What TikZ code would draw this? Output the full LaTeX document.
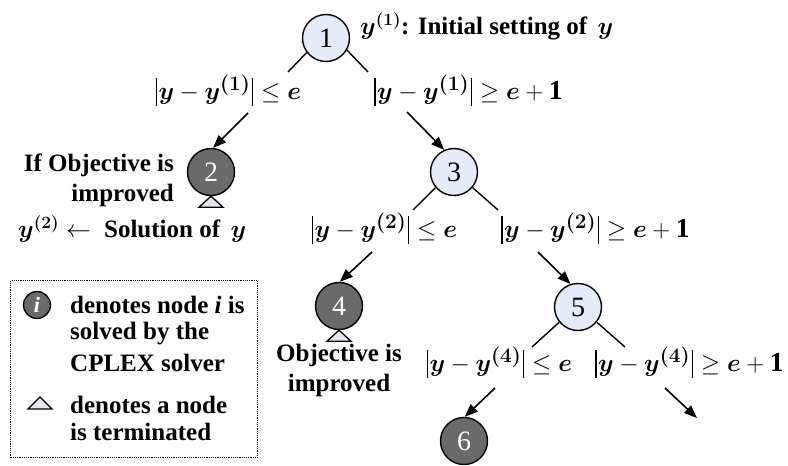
\documentclass[tikz,border=0pt]{standalone}
\usepackage{fontspec}
\setmainfont{Liberation Serif}
\usepackage{amsmath}
\usepackage{bm}
\usetikzlibrary{arrows.meta}
\definecolor{lightnode}{HTML}{E6ECF7}
\definecolor{darknode}{HTML}{6A6A6A}
\definecolor{trifill}{HTML}{E4E6EE}
\newcommand{\by}{\bm{y}}
\newcommand{\be}{\bm{e}}
\newcommand{\itsup}[1]{^{\bm{(#1)}}}
\newcommand{\lbar}{\mathopen{\kern1pt\rule[-6.5pt]{1.3pt}{28pt}\kern1.5pt}}
\newcommand{\rbar}{\mathclose{\kern1.5pt\rule[-6.5pt]{1.3pt}{28pt}\kern1pt}}
\begin{document}
\begin{tikzpicture}[x=1pt,y=-1pt,
  lnode/.style={circle,draw,line width=1.4pt,fill=lightnode,minimum size=47pt,inner sep=0pt,font=\fontsize{28}{28}\selectfont},
  dnode/.style={circle,draw,line width=1.4pt,fill=darknode,minimum size=47pt,inner sep=0pt,text=white,font=\fontsize{28}{28}\selectfont},
  branch/.style={line width=1.4pt},
  arr/.style={line width=1.6pt,-{Triangle[length=13pt,width=10pt]}},
  tri/.style={draw,line width=1.3pt,fill=trifill},
  lab/.style={font=\fontsize{27.5}{30}\selectfont,inner sep=0pt},
  txt/.style={font=\fontsize{25}{30}\selectfont\bfseries,inner sep=0pt}
]
\useasboundingbox (0,0) rectangle (788,466);

% nodes
\node[lnode] (n1) at (326,38) {1};
\node[dnode] (n2) at (211,172) {2};
\node[lnode] (n3) at (454,172) {3};
\node[dnode] (n4) at (339,306) {4};
\node[lnode] (n5) at (578,307) {5};
\node[dnode] (n6) at (464,441) {6};

% labels
\node[txt,anchor=west] (t1) at (360,26) {$\by\itsup{1}$: Initial setting of\, $\by$};
\node[lab] (l1a) at (228,90) {$\lbar\by-\by\itsup{1}\rbar\leq\be$};
\node[lab] (l1b) at (468,90) {$\lbar\by-\by\itsup{1}\rbar\geq\be+\mathbf{1}$};
\node[lab] (l2a) at (384,228) {$\lbar\by-\by\itsup{2}\rbar\leq\be$};
\node[lab] (l2b) at (595,228) {$\lbar\by-\by\itsup{2}\rbar\geq\be+\mathbf{1}$};
\node[lab] (l3a) at (499,362) {$\lbar\by-\by\itsup{4}\rbar\leq\be$};
\node[lab] (l3b) at (689,362) {$\lbar\by-\by\itsup{4}\rbar\geq\be+\mathbf{1}$};

\node[txt,anchor=east,align=right] (t2) at (174,180) {If Objective is\\improved};
\node[txt,anchor=west] (t3) at (18,229) {$\by\itsup{2}\leftarrow$\; Solution of\, $\by$};
\node[txt,align=center] (t4) at (339,370) {Objective is\\improved};

% branch lines
\coordinate (b1l) at (288,72);
\coordinate (b1r) at (368,72);
\coordinate (b3l) at (413,210);
\coordinate (b3r) at (498,210);
\coordinate (b5l) at (532,347);
\coordinate (b5r) at (625,347);
\draw[branch] (n1.217) -- (b1l);
\draw[branch] (n1.330) -- (b1r);
\draw[branch] (n3.220) -- (b3l);
\draw[branch] (n3.320) -- (b3r);
\draw[branch] (n5.219) -- (b5l);
\draw[branch] (n5.321) -- (b5r);

% arrows
\coordinate (a1) at (248,113);
\coordinate (a2) at (407,112);
\coordinate (a3) at (372,252);
\coordinate (a4) at (538,252);
\coordinate (a5) at (495,388);
\coordinate (a6) at (665,388);
\coordinate (a6e) at (697,418);
\draw[arr] (a1) -- (n2.85);
\draw[arr] (a2) -- (n3.114);
\draw[arr] (a3) -- (n4.88);
\draw[arr] (a4) -- (n5.108);
\draw[arr] (a5) -- (n6.88);
\draw[arr] (a6) -- (a6e);

% termination triangles
\draw[tri] (n2.south) -- ++(12,11) -- ++(-24,0) -- cycle;
\draw[tri] (n4.south) -- ++(12,11) -- ++(-24,0) -- cycle;

% legend
\node[draw,densely dotted,line width=1.2pt,minimum width=247pt,minimum height=177pt,anchor=north west,inner sep=0pt] (leg) at (10,280) {};
\node[circle,draw,line width=1.3pt,fill=darknode,minimum size=27pt,inner sep=0pt,text=white,font=\fontsize{22}{24}\selectfont\bfseries\itshape] (li) at (37,305) {i};
\node[txt,anchor=west] (lt1) at (70,305) {denotes node \textit{i} is};
\node[txt,anchor=west] (lt2) at (70,334) {solved by the};
\node[txt,anchor=west] (lt3) at (70,363) {CPLEX solver};
\coordinate (ltri) at (40,397);
\draw[tri] (ltri) -- ++(12,12) -- ++(-24,0) -- cycle;
\node[txt,anchor=west] (lt4) at (70,405) {denotes a node};
\node[txt,anchor=west] (lt5) at (70,432) {is terminated};
\end{tikzpicture}
\end{document}
